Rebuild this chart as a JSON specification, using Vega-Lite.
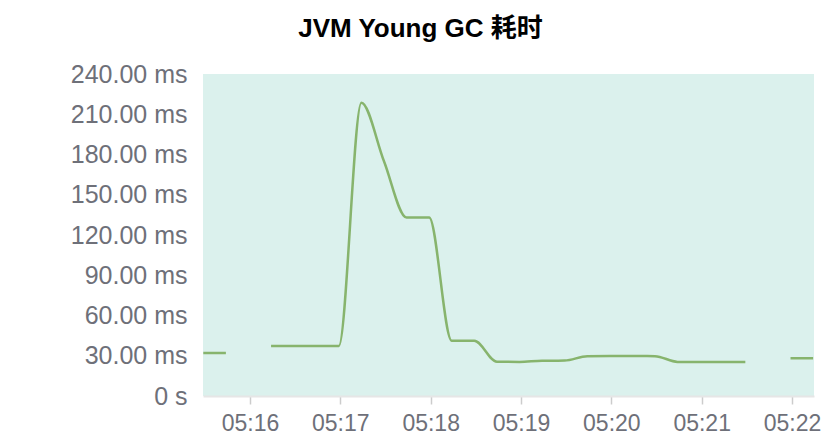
{
  "$schema": "https://vega.github.io/schema/vega-lite/v6.json",
  "width": 611,
  "height": 322,
  "autosize": {"type": "none"},
  "padding": {"left": 203, "top": 74, "right": 22, "bottom": 42},
  "background": "#ffffff",
  "title": {
    "text": "JVM Young GC 耗时",
    "font": "Liberation Sans, Noto Sans CJK SC",
    "fontSize": 26,
    "fontWeight": "bold",
    "color": "#000000",
    "anchor": "middle",
    "frame": "group",
    "dx": -88,
    "dy": 42,
    "offset": 36,
    "baseline": "bottom"
  },
  "config": {
    "view": {"fill": "#dbf1ed", "stroke": null},
    "font": "Liberation Sans, Noto Sans CJK SC"
  },
  "data": {
    "values": [
      {"time": "2024-01-01T05:15:29", "ms": 32},
      {"time": "2024-01-01T05:15:44", "ms": 32},
      {"time": "2024-01-01T05:15:59", "ms": null},
      {"time": "2024-01-01T05:16:14", "ms": 37.3},
      {"time": "2024-01-01T05:16:29", "ms": 37.3},
      {"time": "2024-01-01T05:16:44", "ms": 37.3},
      {"time": "2024-01-01T05:16:59", "ms": 37.3},
      {"time": "2024-01-01T05:17:14", "ms": 218.6},
      {"time": "2024-01-01T05:17:29", "ms": 175},
      {"time": "2024-01-01T05:17:44", "ms": 133},
      {"time": "2024-01-01T05:17:59", "ms": 133},
      {"time": "2024-01-01T05:18:14", "ms": 41.2},
      {"time": "2024-01-01T05:18:29", "ms": 41.2},
      {"time": "2024-01-01T05:18:44", "ms": 25.5},
      {"time": "2024-01-01T05:18:59", "ms": 25.4},
      {"time": "2024-01-01T05:19:14", "ms": 26.3},
      {"time": "2024-01-01T05:19:29", "ms": 26.4},
      {"time": "2024-01-01T05:19:44", "ms": 29.7},
      {"time": "2024-01-01T05:19:59", "ms": 29.8},
      {"time": "2024-01-01T05:20:14", "ms": 29.8},
      {"time": "2024-01-01T05:20:29", "ms": 29.7},
      {"time": "2024-01-01T05:20:44", "ms": 25.4},
      {"time": "2024-01-01T05:20:59", "ms": 25.3},
      {"time": "2024-01-01T05:21:14", "ms": 25.3},
      {"time": "2024-01-01T05:21:29", "ms": 25.3},
      {"time": "2024-01-01T05:21:44", "ms": null},
      {"time": "2024-01-01T05:21:59", "ms": 28.1},
      {"time": "2024-01-01T05:22:14", "ms": 28.1}
    ]
  },
  "mark": {"type": "line", "interpolate": "monotone", "color": "#87b46d", "strokeWidth": 2.5, "clip": true},
  "encoding": {
    "x": {
      "field": "time",
      "type": "temporal",
      "scale": {
        "domain": [
          {"year": 2024, "month": 1, "date": 1, "hours": 5, "minutes": 15, "seconds": 28, "milliseconds": 800},
          {"year": 2024, "month": 1, "date": 1, "hours": 5, "minutes": 22, "seconds": 14, "milliseconds": 600}
        ]
      },
      "axis": {
        "title": null,
        "format": "%H:%M",
        "values": [
          {"year": 2024, "month": 1, "date": 1, "hours": 5, "minutes": 16},
          {"year": 2024, "month": 1, "date": 1, "hours": 5, "minutes": 17},
          {"year": 2024, "month": 1, "date": 1, "hours": 5, "minutes": 18},
          {"year": 2024, "month": 1, "date": 1, "hours": 5, "minutes": 19},
          {"year": 2024, "month": 1, "date": 1, "hours": 5, "minutes": 20},
          {"year": 2024, "month": 1, "date": 1, "hours": 5, "minutes": 21},
          {"year": 2024, "month": 1, "date": 1, "hours": 5, "minutes": 22}
        ],
        "grid": false,
        "domainColor": "#e6e6e6",
        "domainWidth": 2,
        "tickColor": "#cccccc",
        "tickWidth": 1.5,
        "tickSize": 8,
        "labelPadding": 8,
        "labelFontSize": 23,
        "labelColor": "#6e7079",
        "labelFont": "Liberation Sans",
        "labelFlush": false,
        "labelOverlap": false
      }
    },
    "y": {
      "field": "ms",
      "type": "quantitative",
      "scale": {"domain": [0, 240], "nice": false},
      "axis": {
        "title": null,
        "values": [0, 30, 60, 90, 120, 150, 180, 210, 240],
        "labelExpr": "datum.value == 0 ? '0 s' : format(datum.value, '.2f') + ' ms'",
        "grid": false,
        "domain": false,
        "ticks": false,
        "labelPadding": 16,
        "labelFontSize": 25,
        "labelColor": "#6e7079",
        "labelFont": "Liberation Sans"
      }
    }
  }
}
